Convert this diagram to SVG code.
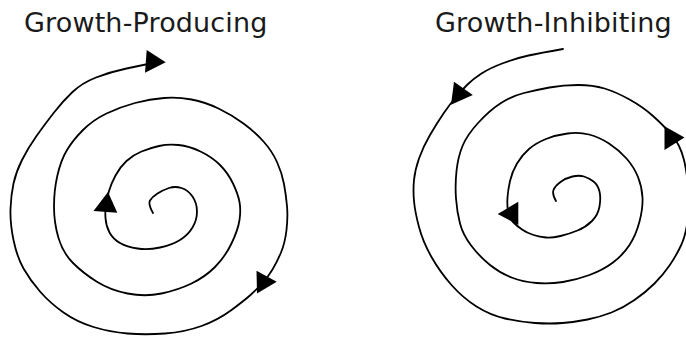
<svg xmlns="http://www.w3.org/2000/svg" width="686" height="337" viewBox="0 0 686 337">
<style>
.lbl{font-family:"DejaVu Sans","Verdana",sans-serif;font-size:27px;fill:#1a1a1a;letter-spacing:0.15px}
.sp{fill:none;stroke:#000;stroke-width:1.8;stroke-linecap:round;stroke-linejoin:round}
.ah{fill:#000;stroke:none}
</style>
<rect width="686" height="337" fill="#fff"/>
<g id="label-producing"><text class="lbl" x="24" y="31.5">Growth-Producing</text></g>
<g id="label-inhibiting"><text class="lbl" x="435" y="31.5">Growth-Inhibiting</text></g>
<g id="spiral-producing">
<path class="sp" d="M153,213 Q148,204 150,200.5 Q152,197 157.5,193.5 Q163,190 169,188 Q175,186 181.5,188 Q188,190 192.5,196.5 Q197,203 197,211.5 Q197,220 192.5,227.5 Q188,235 180,240 Q172,245 160,247.5 Q148,250 137.5,248.5 Q127,247 120,243 Q113,239 109.5,232.5 Q106,226 105.5,218 Q105,210 106,204 Q107,198 109,191 Q111,184 115.5,175.5 Q120,167 126.5,161 Q133,155 141.5,151.5 Q150,148 159,146 Q168,144 178.5,145 Q189,146 200.5,151.5 Q212,157 220,165 Q228,173 233,183.5 Q238,194 239.5,202 Q241,210 239.5,220 Q238,230 231.5,243.5 Q225,257 215,267 Q205,277 191.5,283.5 Q178,290 161.5,293.5 Q145,297 127.5,293.5 Q110,290 96.5,281.5 Q83,273 73,263 Q63,253 58.5,238 Q54,223 54,206.5 Q54,190 57.5,175 Q61,160 67,150 Q73,140 83,130 Q93,120 106.5,113.5 Q120,107 135,103 Q150,99 164,98 Q178,97 191.5,99.5 Q205,102 218.5,108.5 Q232,115 243.5,123.5 Q255,132 263.5,141.5 Q272,151 277,162 Q282,173 284,184 Q286,195 287,206 Q288,217 286.5,230 Q285,243 281,252.5 Q277,262 272.5,269.5 Q268,277 262.5,283 Q257,289 251,294.5 Q245,300 231.5,310 Q218,320 201.5,326 Q185,332 165,333.5 Q145,335 127.5,333.5 Q110,332 93.5,327 Q77,322 63.5,312.5 Q50,303 40,291.5 Q30,280 23.5,268.5 Q17,257 13.5,240 Q10,223 10.5,209 Q11,195 13.5,183.5 Q16,172 22,160 Q28,148 36.5,136 Q45,124 54,112.5 Q63,101 72.5,92 Q82,83 96,77.5 Q110,72 126.5,68.5 Q143,65 158,62"/>
<polygon class="ah" points="146.7,50 165.7,62.3 145,72.7"/>
<polygon class="ah" points="108,192 117.3,212.7 93.5,211"/>
<polygon class="ah" points="256.5,270.7 276.7,281.7 257,293.5"/>
</g>
<g id="spiral-inhibiting">
<path class="sp" d="M563,49 Q540,53 528.5,55.5 Q517,58 503.5,63 Q490,68 481.5,73.5 Q473,79 467.5,84.5 Q462,90 456,97 Q450,104 443.5,113.5 Q437,123 430,135 Q423,147 419,158.5 Q415,170 414,180 Q413,190 414,201 Q415,212 419,227 Q423,242 431.5,257 Q440,272 451.5,285 Q463,298 476.5,306.5 Q490,315 505,318.5 Q520,322 535,323 Q550,324 562.5,323 Q575,322 587.5,319.5 Q600,317 611.5,312.5 Q623,308 634.5,300 Q646,292 654.5,283.5 Q663,275 669.5,265.5 Q676,256 681,245.5 Q686,235 688,217.5 Q690,200 688,184 Q686,168 684,160 Q682,152 679,146 Q676,140 669.5,132.5 Q663,125 653,116 Q643,107 629.5,99.5 Q616,92 604.5,88.5 Q593,85 578,85 Q563,85 549.5,87.5 Q536,90 524,93 Q512,96 501,103 Q490,110 478.5,122.5 Q467,135 462.5,146 Q458,157 456.5,171 Q455,185 456,198.5 Q457,212 460,223.5 Q463,235 471.5,246 Q480,257 490,265 Q500,273 511.5,277.5 Q523,282 536.5,283 Q550,284 563,282 Q576,280 589.5,275 Q603,270 613,262.5 Q623,255 629.5,245 Q636,235 639.5,221.5 Q643,208 642.5,197.5 Q642,187 638,177 Q634,167 626.5,158.5 Q619,150 609,143.5 Q599,137 589,134.5 Q579,132 567.5,133.5 Q556,135 546,139 Q536,143 529,149 Q522,155 517,163.5 Q512,172 510,181 Q508,190 507.5,197.5 Q507,205 508,211.5 Q509,218 513,222 Q517,226 522,229.5 Q527,233 533.5,235 Q540,237 546,237.5 Q552,238 560.5,236 Q569,234 577.5,230.5 Q586,227 592,221 Q598,215 599.5,206.5 Q601,198 599.5,191.5 Q598,185 593.5,181.5 Q589,178 584,176.5 Q579,175 572.5,176.5 Q566,178 560.5,182 Q555,186 553.5,190 Q552,194 556,201"/>
<polygon class="ah" points="454,81.7 472.8,95 451,104.7"/>
<polygon class="ah" points="664.5,126.3 684.5,137.5 664.5,150"/>
<polygon class="ah" points="518.3,201.7 518.3,225 497.7,214"/>
</g>
</svg>
